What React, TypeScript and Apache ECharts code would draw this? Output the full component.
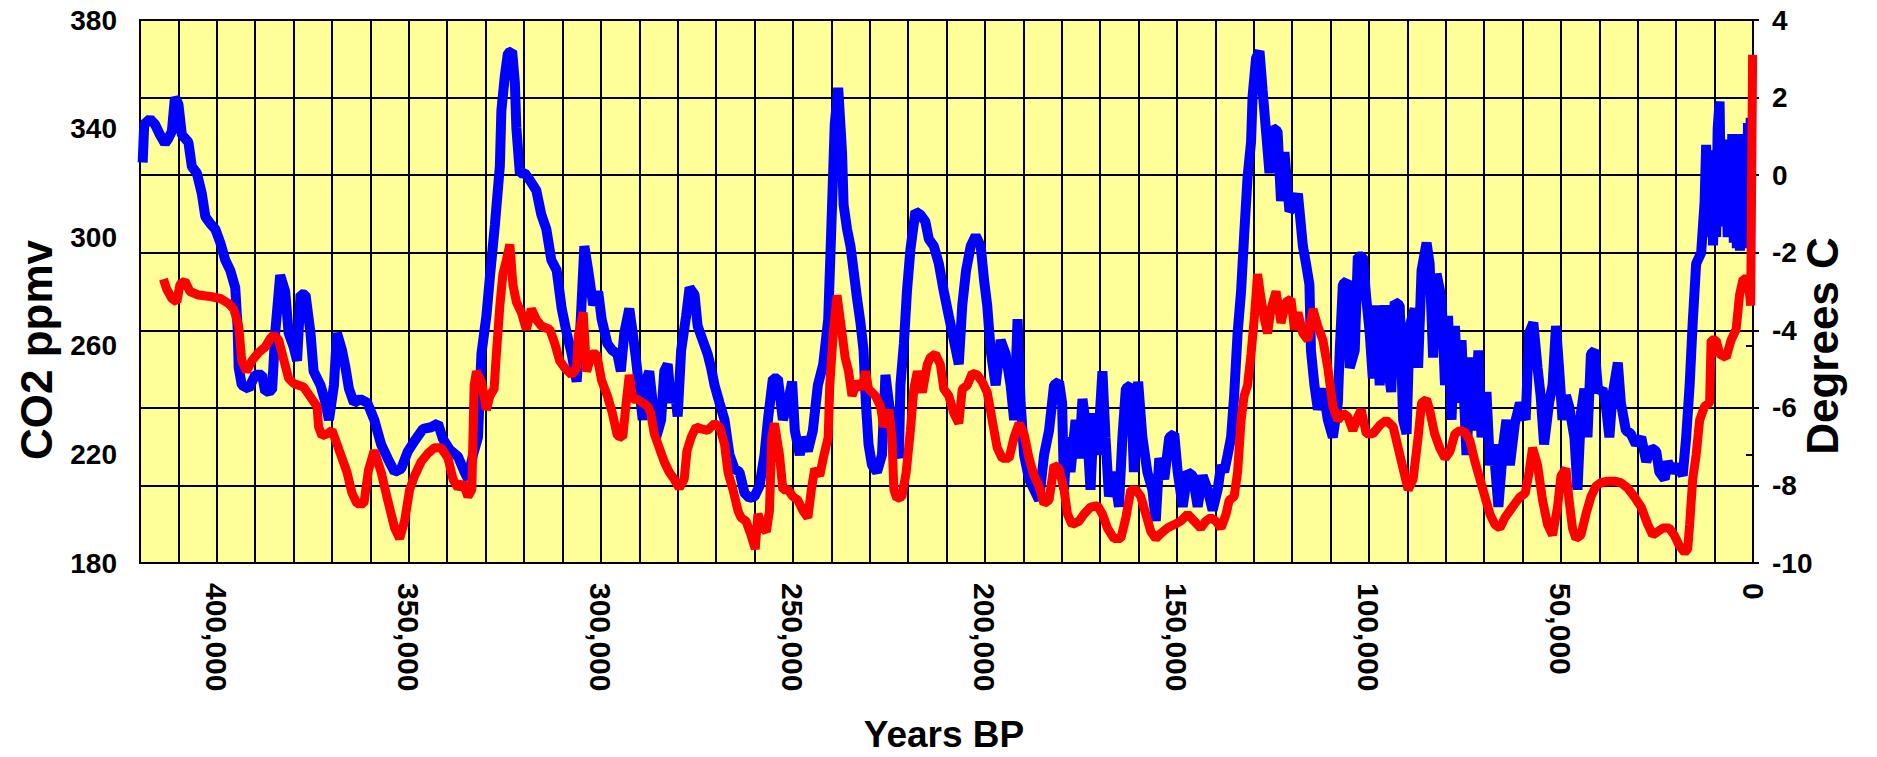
import React, { useEffect, useRef } from "react";
import * as echarts from "echarts";

// CO2 (ppmv) – years before present
const co2Years = [
  419300, 418900, 417400, 416100, 414800, 413500, 412600, 411700, 410900, 410000,
  409100, 407400, 406500, 405200, 403900, 403000, 401700, 400400, 399100, 397800,
  396500, 395200, 394600, 394300, 393500, 391700, 390000, 388200, 387400, 385600,
  384800, 383500, 382200, 381300, 380000, 379100, 378200, 376900, 375600, 374800,
  373000, 371700, 370800, 369500, 368700, 367400, 366500, 365600, 364300, 362600,
  360800, 359000, 357200, 355500, 353700, 352000, 350300, 348500, 346300, 344200,
  342400, 341100, 339400, 337200, 335500, 334600, 333300, 332000, 331100, 329800,
  328900, 327600, 326300, 325900, 325000, 324200, 323100, 322400, 322000, 321100,
  319800, 318500, 316800, 315500, 314200, 312900, 311500, 310200, 308900, 307600,
  306300, 305400, 304300, 303300, 302000, 300700, 299800, 298300, 297000, 295700,
  294800, 293900, 292600, 291700, 290900, 290000, 289100, 288300, 287400, 286500,
  285600, 284300, 283500, 282600, 281700, 280900, 280000, 279100, 277800, 276900,
  275600, 274800, 273500, 272200, 271300, 270400, 269100, 267800, 266500, 265200,
  263900, 262600, 261300, 260000, 258700, 257400, 256500, 255200, 253900, 252600,
  251300, 250200, 249500, 248200, 247400, 246100, 244800, 243500, 242100, 240800,
  240000, 239100, 238200, 237200, 236800, 235900, 235000, 234200, 233300, 232400,
  231600, 231000, 230300, 229400, 228100, 226800, 225900, 225000, 223700, 222400,
  222000, 221100, 220300, 219400, 218100, 216800, 215500, 214600, 213300, 212000,
  210700, 209400, 208100, 206800, 205900, 204900, 203700, 202400, 201100, 200200,
  199400, 198500, 197200, 195900, 194600, 193300, 192400, 191500, 190700, 189800,
  188500, 187200, 185900, 184600, 183300, 182000, 180700, 179900, 179400, 178600,
  177700, 176400, 175500, 174600, 173300, 172500, 171600, 170700, 169400, 168600,
  167700, 166400, 165100, 164200, 163300, 162000, 161200, 160100, 159000, 157700,
  156400, 155500, 154600, 153300, 152000, 150700, 149800, 148500, 147200, 145900,
  144600, 143300, 142000, 140700, 139400, 138500, 137700, 136800, 135900, 135100,
  134200, 133300, 132500, 131600, 130700, 130300, 129400, 128500, 127700, 126800,
  125900, 125100, 123800, 122900, 122000, 120700, 119400, 118500, 117200, 116400,
  115500, 115100, 114200, 113300, 112000, 110700, 109400, 108100, 107600, 106800,
  105700, 105000, 103700, 102900, 101600, 100700, 99800, 99000, 98100, 97200,
  95900, 95000, 94200, 93300, 92000, 91100, 90200, 89400, 88100, 87200,
  86300, 85000, 84200, 83300, 82400, 81100, 80200, 79400, 78500, 77600,
  76800, 75900, 74600, 73300, 72400, 71500, 70700, 69400, 68500, 67600,
  66300, 65000, 64200, 63300, 62000, 60700, 59200, 58300, 57200, 56100,
  55300, 54400, 53100, 52200, 51300, 50500, 49600, 48700, 47900, 46500,
  45700, 44800, 43900, 43100, 42200, 41200, 40300, 39200, 38300, 37400,
  36600, 35200, 34400, 33100, 31800, 30500, 29100, 27800, 26500, 25200,
  24400, 23000, 22200, 20900, 19600, 18300, 17400, 16500, 15700, 14800,
  13500, 12600, 12200, 11900, 11500, 11100, 10700, 10400, 10000, 9600,
  9200, 8700, 8300, 7800, 7400, 7000, 6600, 6200, 5800, 5400,
  5000, 4600, 4200, 3800, 3400, 3000, 2600, 2200, 1800, 1300,
  900, 600,
];
const co2Values = [
  327.5, 341.6, 343.5, 341.6, 337.7, 334.5, 336.4, 339, 351.5, 349,
  337.7, 335, 326, 323.6, 316, 307.6, 305, 303, 298, 291.6,
  287.8, 281.4, 267.3, 252, 245.5, 244.2, 249.3, 249.3, 243, 243.6,
  264.7, 286, 280, 264.7, 259.6, 254.5, 279, 278.8, 264.7, 250.6,
  245.5, 239, 232.7, 245.5, 264.7, 258.3, 252, 244.2, 239, 240.4,
  239, 232.7, 223.6, 218.5, 213.5, 214.7, 221, 225, 229.4, 230,
  231.4, 225.6, 221.8, 219.2, 213.5, 210.9, 219.8, 226.3, 257, 271,
  285.2, 304.4, 326.2, 346.7, 359.5, 367.8, 368.5, 357, 340.3, 323.6,
  323.6, 321, 317.2, 308.3, 303, 291.6, 287.8, 273.7, 264.7, 257,
  246.8, 264.7, 296.7, 287.8, 275, 280, 269.8, 260.8, 258.3, 257,
  250.6, 264.7, 273.7, 264.7, 255.7, 244.2, 232.7, 246.8, 250.6, 239,
  226.3, 232.7, 250.6, 253.2, 239, 245.5, 234, 258.3, 271, 281.4,
  278.8, 267.3, 262.1, 257, 251.9, 245.5, 239, 232.7, 219.8, 214.7,
  213.5, 205.8, 203.9, 204.5, 208.3, 219.8, 232.7, 248, 248, 232.7,
  239, 246.8, 228.8, 219.8, 226.3, 221.2, 228.8, 245.5, 253.2, 269.8,
  303, 341.6, 355, 331.3, 312, 303, 296.7, 287.8, 277.5, 268.5,
  258.3, 239, 223.7, 216, 213.5, 219.8, 249.3, 239, 226.3, 218.6,
  245.5, 260.8, 280, 295.4, 309.5, 308.3, 305.7, 299.3, 296.7, 290.3,
  280, 271, 262.1, 253.2, 274.9, 287.8, 296.7, 300.6, 296.7, 283.9,
  274.9, 258.3, 245.5, 262.1, 257, 245.5, 232.7, 269.8, 239, 219.8,
  210.9, 207, 203.2, 219.8, 228.8, 245.5, 246.8, 239, 207, 226.3,
  213.5, 232.7, 218.6, 240.4, 226.3, 207, 235.2, 219.8, 250.6, 226.3,
  204.5, 213.5, 200.7, 226.3, 244.2, 245.5, 213.5, 246.8, 226.3, 213.5,
  207, 195.5, 218.6, 210.9, 226.3, 227.6, 213.5, 200.7, 213.5, 212.2,
  200.7, 212.2, 207, 199.4, 207, 216, 213.5, 219.8, 226.3, 241.7,
  264.7, 280, 300.6, 322.3, 335.1, 351.8, 365.9, 368.5, 354.4, 339,
  323.6, 340.3, 339, 313.3, 331.3, 309.5, 312.1, 316, 296.7, 290.3,
  282.6, 258.3, 245.5, 236.5, 244.2, 232.7, 226.3, 239, 258.3, 282.6,
  283.9, 251.9, 258.3, 292.9, 292.9, 277.5, 264.7, 248, 274.9, 245.5,
  274.9, 251.9, 243, 276.2, 274.9, 232.7, 227.6, 267.3, 273.7, 251.9,
  287.8, 298, 290.3, 255.7, 286.5, 277.5, 245.5, 271, 232.7, 267.3,
  239, 262.1, 219.8, 255.7, 228.8, 258.3, 226.3, 243, 216, 223.7,
  200.7, 224, 232.7, 216, 231.4, 239, 232.7, 264.7, 268.5, 251.9,
  241.7, 223.7, 239, 245.5, 267.3, 251.9, 232.7, 241.7, 237.8, 226.3,
  207, 235.2, 244.2, 226.3, 257, 258.3, 242.9, 244.2, 237.8, 226.3,
  241.7, 253.8, 239, 228.8, 227.6, 223.7, 226.3, 217.3, 222.4, 221.2,
  213.5, 210.9, 217.3, 213.5, 216, 212.2, 226.3, 245.5, 268.5, 290.3,
  294.2, 313, 334, 300, 332, 302, 330, 297, 322, 300,
  340, 350, 305, 330, 304, 334, 300, 336, 300, 338,
  298, 338, 296, 338, 295, 336, 296, 338, 296, 342,
  298, 344,
];

// Temperature anomaly (degrees C) – years before present
const tempYears = [
  413900, 413000, 411700, 410400, 409600, 408300, 407000, 404800, 401700, 399100,
  396900, 395600, 394300, 393500, 392300, 390900, 389100, 387400, 386100, 385200,
  383900, 382600, 381300, 380000, 377400, 375200, 373900, 373500, 372600, 371300,
  370000, 368700, 367400, 366100, 364800, 363500, 361700, 360500, 359000, 357200,
  355500, 353700, 352400, 351100, 349800, 348500, 346800, 345000, 343300, 341600,
  339800, 338500, 337200, 335900, 334600, 333600, 333000, 332400, 331100, 329800,
  328900, 327800, 327200, 326300, 325500, 324600, 323700, 322900, 322000, 320700,
  319400, 318100, 316800, 315500, 313300, 312000, 310700, 309400, 307600, 306300,
  305900, 304600, 303700, 302400, 301100, 299800, 298300, 297000, 295700, 294300,
  293500, 292600, 291700, 290400, 289100, 287800, 287000, 286100, 284800, 283500,
  282200, 280900, 279600, 278300, 277600, 276500, 275200, 273900, 272200, 270400,
  269100, 267800, 266900, 265600, 264300, 263500, 262200, 260900, 259800, 259100,
  257800, 256900, 256100, 255500, 254800, 253500, 252600, 251300, 250000, 248700,
  247400, 246100, 245200, 244300, 243000, 242100, 240800, 240400, 239500, 238500,
  237200, 236400, 235500, 234600, 233300, 232000, 231100, 230300, 228500, 227200,
  226300, 225000, 224200, 223700, 222900, 221600, 220500, 219400, 218500, 217600,
  216300, 215000, 214200, 212900, 211600, 210700, 209400, 208100, 206800, 205900,
  204600, 203300, 202000, 200700, 199400, 198100, 196800, 195500, 193700, 192400,
  191100, 189800, 188500, 187200, 185900, 184600, 183300, 182000, 180700, 179400,
  178500, 177300, 175500, 174200, 172500, 170700, 169400, 168100, 166400, 164600,
  163300, 162000, 160700, 159400, 158100, 156800, 155500, 154200, 152500, 150700,
  149000, 147200, 145500, 143800, 142500, 141200, 139900, 138500, 137200, 136400,
  135100, 134200, 133300, 132500, 131600, 130700, 129800, 129000, 128100, 127200,
  126400, 125500, 124200, 122900, 121600, 120300, 119400, 118500, 117200, 115900,
  114600, 113300, 112000, 110700, 109400, 108100, 106800, 105500, 104200, 102900,
  102000, 100700, 99000, 97200, 95500, 93700, 92400, 91100, 89800, 88500,
  87200, 86300, 85000, 84200, 82900, 81600, 80200, 78900, 77600, 76300,
  75000, 73700, 72400, 71100, 69800, 68500, 67200, 65900, 64600, 63300,
  62000, 60700, 59300, 58300, 57400, 56100, 54800, 53500, 52200, 50900,
  50000, 48700, 47900, 47000, 46100, 44800, 43500, 42200, 40900, 39600,
  37900, 36100, 34400, 32600, 30900, 29100, 27400, 26100, 24800, 23500,
  21800, 20500, 19200, 17800, 17000, 16500, 15700, 14800, 13900, 12600,
  11300, 10900, 9600, 8700, 7000, 5700, 4400, 3500, 2600, 1300,
  600, 100,
];
const tempValues = [
  -2.68, -2.95, -3.18, -3.27, -2.82, -2.73, -3.0, -3.09, -3.13, -3.18,
  -3.31, -3.45, -3.89, -4.79, -5.06, -4.79, -4.57, -4.43, -4.21, -4.12,
  -4.25, -4.75, -5.24, -5.37, -5.46, -5.78, -5.96, -6.49, -6.72, -6.67,
  -6.58, -6.94, -7.3, -7.66, -8.2, -8.47, -8.47, -7.6, -7.1, -7.66,
  -8.38, -9.1, -9.37, -8.92, -8.11, -7.75, -7.39, -7.17, -7.03, -7.03,
  -7.3, -7.84, -8.07, -7.93, -8.29, -8.11, -5.42, -5.06, -5.33, -6.05,
  -5.69, -5.51, -4.61, -3.36, -2.55, -2.19, -1.79, -2.82, -3.27, -3.54,
  -3.98, -3.45, -3.72, -3.89, -3.98, -4.34, -4.79, -4.97, -5.15, -4.97,
  -4.16, -3.54, -5.06, -4.61, -4.61, -5.3, -5.69, -6.14, -6.72, -6.76,
  -5.96, -5.15, -5.78, -5.78, -5.87, -5.96, -6.14, -6.67, -7.03, -7.39,
  -7.66, -7.84, -8.07, -7.84, -7.12, -6.76, -6.49, -6.54, -6.58, -6.4,
  -6.49, -6.94, -7.66, -8.11, -8.65, -8.83, -8.92, -9.28, -9.64, -8.74,
  -9.1, -9.19, -8.65, -6.76, -6.4, -7.21, -8.11, -8.11, -8.29, -8.38,
  -8.65, -8.83, -8.11, -7.57, -7.75, -7.3, -6.76, -5.42, -4.08, -3.1,
  -4.08, -4.7, -5.06, -5.69, -5.33, -5.51, -5.06, -5.51, -5.69, -5.96,
  -6.49, -6.05, -6.76, -8.11, -8.34, -8.29, -7.66, -6.58, -5.51, -5.06,
  -5.6, -4.88, -4.7, -4.61, -4.88, -5.51, -5.69, -6.14, -6.4, -5.51,
  -5.42, -5.11, -5.15, -5.33, -5.6, -6.32, -7.03, -7.3, -7.3, -6.76,
  -6.4, -6.67, -7.3, -7.75, -8.02, -8.47, -8.38, -7.48, -7.57, -8.1,
  -8.74, -9.01, -8.92, -8.74, -8.56, -8.52, -8.74, -9.1, -9.37, -9.37,
  -8.83, -8.11, -8.11, -8.29, -8.74, -9.19, -9.37, -9.24, -9.1, -9.01,
  -8.92, -8.74, -8.92, -9.1, -8.92, -8.83, -8.92, -9.1, -8.74, -8.38,
  -8.29, -7.66, -6.32, -5.69, -5.42, -4.61, -3.63, -2.55, -3.18, -3.72,
  -4.08, -3.45, -3.0, -3.81, -3.27, -3.2, -3.98, -3.54, -4.08, -4.25,
  -3.45, -3.9, -4.25, -4.97, -5.96, -6.32, -6.14, -6.23, -6.58, -6.23,
  -6.05, -6.67, -6.67, -6.45, -6.32, -6.49, -7.03, -7.57, -8.11, -7.84,
  -6.76, -5.87, -5.78, -6.05, -6.67, -7.03, -7.3, -7.12, -6.67, -6.58,
  -6.63, -6.85, -7.39, -7.84, -8.29, -8.74, -9.01, -9.1, -8.83, -8.65,
  -8.47, -8.3, -8.2, -7.66, -7.03, -7.48, -8.38, -9.01, -9.28, -8.56,
  -7.75, -7.57, -8.38, -9.1, -9.37, -9.28, -8.74, -8.29, -8.02, -7.93,
  -7.89, -7.89, -7.93, -8.07, -8.29, -8.56, -9.01, -9.28, -9.19, -9.1,
  -9.1, -9.28, -9.55, -9.73, -9.64, -9.01, -7.84, -7.21, -6.32, -5.96,
  -5.87, -4.25, -4.25, -4.61, -4.7, -4.25, -3.98, -3.09, -2.68, -2.68,
  -3.36, 3.1,
];

// Axis titles
const leftAxisTitle = "CO2 ppmv";
const rightAxisTitle = "Degrees C";
const xAxisTitle = "Years BP";

const FONT = '"Liberation Sans", Arial, sans-serif';

export default function App() {
  const ref = useRef<HTMLDivElement>(null);

  useEffect(() => {
    if (!ref.current) return;
    const chart = echarts.init(ref.current, undefined, { renderer: "svg" });

    const co2Data = co2Years.map((y, i) => [y, co2Values[i]]);
    const tempData = tempYears.map((y, i) => [y, tempValues[i]]);

    const labelStyle = {
      color: "#000",
      fontSize: 28,
      fontWeight: "bold" as const,
      fontFamily: FONT,
    };
    const blackLine = { color: "#000", width: 2 };

    const titleStyle = (text: string, size: number) => ({
      text,
      font: `bold ${size}px ${FONT}`,
      fill: "#000",
      textAlign: "center",
      textVerticalAlign: "middle",
      align: "center",
      verticalAlign: "middle",
    });

    const option: any = {
      animation: false,
      backgroundColor: "#ffffff",
      grid: {
        left: 140,
        right: 124,
        top: 20,
        bottom: 194,
        show: true,
        backgroundColor: "#FFFF99",
        borderColor: "#000",
        borderWidth: 2,
      },
      xAxis: {
        type: "value",
        min: 0,
        max: 420000,
        interval: 10000,
        inverse: true,
        axisLine: { show: true, lineStyle: blackLine },
        axisTick: { show: false },
        splitLine: { show: true, lineStyle: blackLine },
        axisLabel: {
          ...labelStyle,
          fontSize: 30,
          rotate: -90,
          margin: 20,
          showMinLabel: true,
          showMaxLabel: true,
          formatter: (v: number) =>
            v % 50000 === 0 ? v.toLocaleString("en-US") : "",
        },
      },
      yAxis: [
        {
          type: "value",
          position: "left",
          min: 180,
          max: 380,
          interval: 40,
          axisLine: { show: true, lineStyle: blackLine },
          axisTick: { show: true, length: 7, lineStyle: blackLine },
          splitLine: { show: false },
          axisLabel: { ...labelStyle, margin: 23 },
        },
        {
          type: "value",
          position: "right",
          min: -10,
          max: 4,
          interval: 2,
          axisLine: { show: true, lineStyle: blackLine },
          axisTick: { show: true, length: 6, lineStyle: blackLine },
          splitLine: { show: true, lineStyle: blackLine },
          axisLabel: { ...labelStyle, margin: 19 },
        },
      ],
      series: [
        {
          type: "line",
          name: "CO2",
          yAxisIndex: 0,
          data: co2Data,
          showSymbol: false,
          lineStyle: { color: "#0000FF", width: 10, join: "bevel" },
          z: 3,
        },
        {
          type: "line",
          name: "Temperature",
          yAxisIndex: 1,
          data: tempData,
          showSymbol: false,
          lineStyle: { color: "#FF0000", width: 9, join: "bevel" },
          z: 4,
        },
      ],
      graphic: [
        {
          type: "text",
          x: 36,
          y: 350,
          rotation: Math.PI / 2,
          style: titleStyle(leftAxisTitle, 44),
        },
        {
          type: "text",
          x: 1822,
          y: 346,
          rotation: Math.PI / 2,
          style: titleStyle(rightAxisTitle, 44),
        },
        {
          type: "text",
          x: 944,
          y: 734,
          style: titleStyle(xAxisTitle, 37),
        },
      ],
    };

    chart.setOption(option);
    return () => chart.dispose();
  }, []);

  return (
    <div
      ref={ref}
      style={{ position: "fixed", left: 0, top: 0, width: 1877, height: 757 }}
    />
  );
}
